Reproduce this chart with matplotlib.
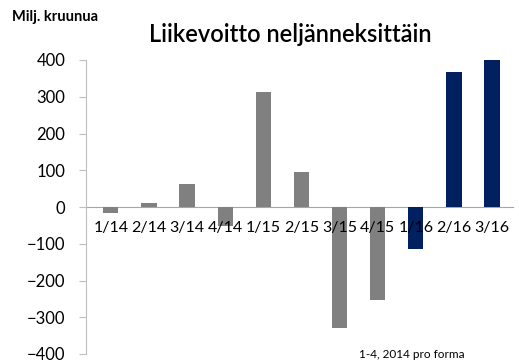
import matplotlib.pyplot as plt
from matplotlib.transforms import offset_copy

plt.rcParams['font.family'] = ['Lato', 'DejaVu Sans']

# quarterly operating profit, MSEK
quarters = ["1/14", "2/14", "3/14", "4/14", "1/15", "2/15", "3/15", "4/15", "1/16", "2/16", "3/16"]
profit = [-15, 10, 63, -52, 313, 95, -329, -253, -115, 367, 400]
pro_forma = [True, True, True, True, True, True, True, True, False, False, False]

GREY = "#808080"
NAVY = "#002060"

fig = plt.figure(figsize=(5.19, 3.63), dpi=100)
ax = fig.add_axes([86 / 519, 9 / 363, 427 / 519, 294 / 363])

colors = [GREY if p else NAVY for p in pro_forma]
ax.bar(range(len(quarters)), profit, width=0.4, color=colors, zorder=2)

ax.set_xlim(-0.65, len(quarters) - 0.45)
ax.set_ylim(-400, 400)
ax.set_yticks(range(-400, 401, 100))
ax.tick_params(axis='y', direction='out', length=5, width=0.8, color="#bfbfbf",
               labelsize=12, pad=10, labelcolor="#000000")

ax.spines['top'].set_visible(False)
ax.spines['right'].set_visible(False)
ax.spines['left'].set_color("#bfbfbf")
ax.spines['bottom'].set_position(('data', 0))
ax.spines['bottom'].set_color("#a6a6a6")
ax.spines['bottom'].set_zorder(1)
ax.set_xticks([])

# category labels sit just under the zero line, on top of the bars
below_zero = offset_copy(ax.transData, fig=fig, x=0, y=-10, units='points')
for i, q in enumerate(quarters):
    ax.text(i, 0, q, transform=below_zero, ha='center', va='top',
            fontsize=11.5, zorder=5, clip_on=False)

fig.text(12 / 519, 1 - 17 / 363, "Milj. kruunua", fontsize=10.5, fontweight='bold',
         va='center', ha='left')
fig.text(290 / 519, 1 - 35 / 363, "Liikevoitto neljänneksittäin", fontsize=17,
         fontweight='semibold', va='center', ha='center')
fig.text(412 / 519, 1 - 355 / 363, "1-4, 2014 pro forma", fontsize=8.5,
         va='center', ha='center')

fig.savefig("out.png", dpi=100)
